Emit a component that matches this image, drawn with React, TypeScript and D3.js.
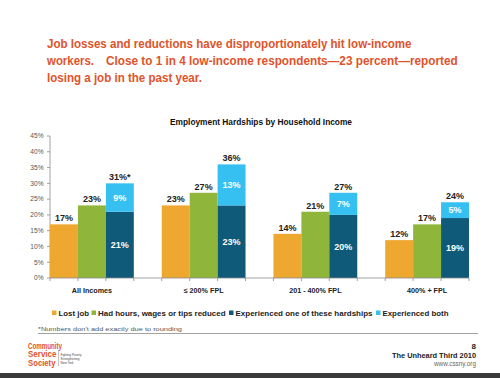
import React, { useLayoutEffect, useRef, useState } from "react";
import * as d3 from "d3";

const categories = ["All Incomes", "\u2264 200% FPL", "201 - 400% FPL", "400% + FPL"];
const lostJob = [17, 23, 14, 12];
const hoursReduced = [23, 27, 21, 17];
const oneHardship = [21, 23, 20, 19];
const bothHardships = [9, 13, 7, 5];
const totalLabels = ["31%*", "36%", "27%", "24%"];
const yTicks = [0, 5, 10, 15, 20, 25, 30, 35, 40, 45];
const seriesNames = ["Lost job", "Had hours, wages or tips reduced", "Experienced one of these hardships", "Experienced both"];

const COLORS = ["#efa82f", "#8fb63a", "#0e5a78", "#36c0f2"];
const TITLE_RED = "#e0532b";
const FONT = "'Liberation Sans', Arial, sans-serif";
const NARROW = "'Liberation Sans Narrow', 'Liberation Sans', Arial, sans-serif";

function FitText(props: { x: number; y: number; w: number; text: string; fontSize: number; fill: string; family: string; weight?: string }) {
  const ref = useRef<SVGTextElement>(null);
  const [sx, setSx] = useState(1);
  useLayoutEffect(() => {
    if (ref.current) {
      const len = ref.current.getComputedTextLength();
      if (len > 0) setSx(props.w / len);
    }
  }, [props.text, props.w]);
  return (
    <text ref={ref} transform={`translate(${props.x},${props.y}) scale(${sx},1)`} x={0} y={0}
      fontFamily={props.family} fontWeight={props.weight || "normal"} fontSize={props.fontSize} fill={props.fill}>
      {props.text}
    </text>
  );
}

export default function App() {
  const W = 500, H = 378;
  const left = 50, right = 469, y0 = 278, yTop = 136;
  const nSlots = categories.length * 4 - 1;
  const slots = d3.range(nSlots);
  const x = d3.scaleBand<number>().domain(slots).range([left, right]).padding(0);
  const y = d3.scaleLinear().domain([0, 45]).range([y0, yTop]);
  const bw = x.bandwidth();
  const slotX = (g: number, s: number) => x(g * 4 + s) as number;

  const legendX = [52, 91.5, 229, 376];
  const legendW = [30.5, 127.5, 137, 66];

  const titleParts = [
    { t: "Job losses and reductions have disproportionately hit low-income", x: 47, w: 365, y: 47.5 },
    { t: "workers.", x: 47, w: 47, y: 64.8 },
    { t: "Close to 1 in 4 low-income respondents\u201423 percent\u2014reported", x: 106, w: 352, y: 64.8 },
    { t: "losing a job in the past year.", x: 47, w: 155, y: 81.8 },
  ];

  return (
    <svg width={W} height={H} style={{ position: "absolute", left: 0, top: 0, background: "#fff" }}>
      <rect x={0} y={0} width={W} height={H} fill="#fff" />
      {titleParts.map((l, i) => (
        <FitText key={i} x={l.x} y={l.y} w={l.w} text={l.t} fontSize={13.5} fill={TITLE_RED} family={NARROW} weight="bold" />
      ))}

      <text x={170} y={125} fontFamily={FONT} fontWeight="bold" fontSize={8.5} fill="#111"
        textLength={182} lengthAdjust="spacingAndGlyphs">Employment Hardships by Household Income</text>

      {/* y axis */}
      <line x1={left} x2={left} y1={yTop} y2={y0} stroke="#8a8a8a" strokeWidth={0.8} />
      {yTicks.map((t) => (
        <g key={t}>
          <line x1={left - 3} x2={left} y1={y(t)} y2={y(t)} stroke="#8a8a8a" strokeWidth={0.8} />
          <text x={43.5} y={y(t) + 2.3} textAnchor="end" fontFamily={FONT} fontSize={6.6} fill="#555">{t}%</text>
        </g>
      ))}

      {/* bars */}
      {categories.map((c, g) => {
        const xs = [slotX(g, 0), slotX(g, 1), slotX(g, 2)];
        const stackTop = oneHardship[g] + bothHardships[g];
        return (
          <g key={c}>
            <rect x={xs[0]} y={y(lostJob[g])} width={bw} height={y0 - y(lostJob[g])} fill={COLORS[0]} />
            <rect x={xs[1]} y={y(hoursReduced[g])} width={bw} height={y0 - y(hoursReduced[g])} fill={COLORS[1]} />
            <rect x={xs[2]} y={y(oneHardship[g])} width={bw} height={y0 - y(oneHardship[g])} fill={COLORS[2]} />
            <rect x={xs[2]} y={y(stackTop)} width={bw} height={y(oneHardship[g]) - y(stackTop)} fill={COLORS[3]} />
            <text x={xs[0] + bw / 2} y={y(lostJob[g]) - 3} textAnchor="middle" fontFamily={FONT} fontWeight="bold" fontSize={9} fill="#222">{lostJob[g]}%</text>
            <text x={xs[1] + bw / 2} y={y(hoursReduced[g]) - 3} textAnchor="middle" fontFamily={FONT} fontWeight="bold" fontSize={9} fill="#222">{hoursReduced[g]}%</text>
            <text x={xs[2] + bw / 2} y={y(stackTop) - 3} textAnchor="middle" fontFamily={FONT} fontWeight="bold" fontSize={9} fill="#222">{totalLabels[g]}</text>
            <text x={xs[2] + bw / 2} y={(y(oneHardship[g]) + y0) / 2 + 3.2} textAnchor="middle" fontFamily={FONT} fontWeight="bold" fontSize={9} fill="#fff">{oneHardship[g]}%</text>
            <text x={xs[2] + bw / 2} y={(y(stackTop) + y(oneHardship[g])) / 2 + 3.2} textAnchor="middle" fontFamily={FONT} fontWeight="bold" fontSize={9} fill="#fff">{bothHardships[g]}%</text>
            <text x={(xs[0] + xs[2] + bw) / 2} y={292.5} textAnchor="middle" fontFamily={FONT} fontWeight="bold" fontSize={7.2} fill="#222">{c}</text>
          </g>
        );
      })}

      {/* x axis */}
      <line x1={left} x2={right} y1={y0} y2={y0} stroke="#8a8a8a" strokeWidth={0.8} />
      {d3.range(nSlots + 1).map((i) => {
        const xx = i < nSlots ? (x(i) as number) : right;
        return <line key={i} x1={xx} x2={xx} y1={y0} y2={y0 + 3} stroke="#8a8a8a" strokeWidth={0.8} />;
      })}

      {/* legend */}
      {seriesNames.map((s, i) => (
        <g key={s}>
          <rect x={legendX[i]} y={310.5} width={4.5} height={4.5} fill={COLORS[i]} />
          <text x={legendX[i] + 6.5} y={315.5} fontFamily={FONT} fontWeight="bold" fontSize={7.8} fill="#222"
            textLength={legendW[i]} lengthAdjust="spacingAndGlyphs">{s}</text>
        </g>
      ))}

      <text x={38} y={331} fontFamily={FONT} fontSize={6.2} fill="#555" textLength={144} lengthAdjust="spacingAndGlyphs">*Numbers don't add exactly due to rounding</text>
      <line x1={38} x2={478} y1={333.5} y2={333.5} stroke="#8a8a8a" strokeWidth={0.8} />

      {/* logo */}
      <g fontFamily={NARROW} fontWeight="bold" fill={TITLE_RED}>
        <text x={28} y={348.5} fontSize={8.6} textLength={34} lengthAdjust="spacingAndGlyphs">Community</text>
        <text x={28} y={357.3} fontSize={8.6} textLength={28.5} lengthAdjust="spacingAndGlyphs">Service</text>
        <text x={28} y={366.1} fontSize={8.6} textLength={27.5} lengthAdjust="spacingAndGlyphs">Society</text>
      </g>
      <line x1={58.5} x2={58.5} y1={350} y2={366} stroke="#999" strokeWidth={0.6} />
      <g fontFamily={FONT} fontSize={3.2} fill="#444">
        <text x={60.5} y={356} textLength={21} lengthAdjust="spacingAndGlyphs">Fighting Poverty</text>
        <text x={60.5} y={360} textLength={19} lengthAdjust="spacingAndGlyphs">Strengthening</text>
        <text x={60.5} y={364} textLength={13} lengthAdjust="spacingAndGlyphs">New York</text>
      </g>

      {/* footer right */}
      <text x={476} y={349} textAnchor="end" fontFamily={FONT} fontWeight="bold" fontSize={8} fill="#222">8</text>
      <text x={476} y={358.2} textAnchor="end" fontFamily={FONT} fontWeight="bold" fontSize={7.4} fill="#222" textLength={84} lengthAdjust="spacingAndGlyphs">The Unheard Third 2010</text>
      <text x={476} y={365.5} textAnchor="end" fontFamily={FONT} fontSize={7} fill="#666" textLength={42} lengthAdjust="spacingAndGlyphs">www.cssny.org</text>

      <rect x={0} y={373} width={W} height={5} fill="#3a3a3a" />
    </svg>
  );
}
